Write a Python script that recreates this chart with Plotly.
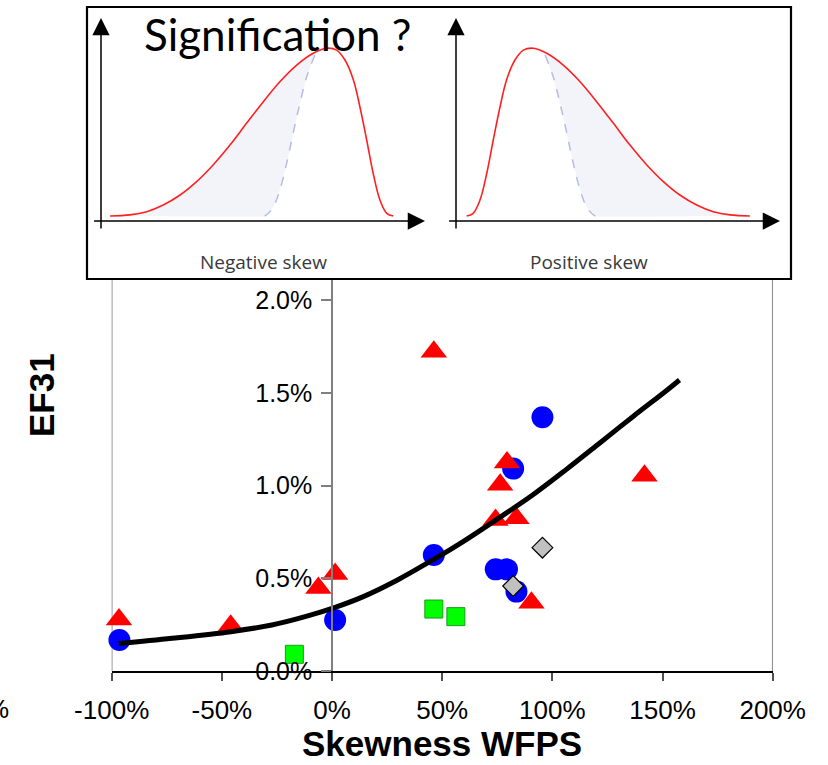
import plotly.graph_objects as go

W, H = 828, 765

# ---- measured series (fractions, 0.01 = 1 %) ----
tri_x = [-0.967, -0.460, -0.062, 0.014, 0.462, 0.794, 0.763, 1.418, 0.742, 0.837, 0.905]
tri_y = [0.00277, 0.00244, 0.00447, 0.00523, 0.01721, 0.01124, 0.01004, 0.01052, 0.00814, 0.00823, 0.00368]

circ_x = [-0.965, 0.014, 0.955, 0.822, 0.462, 0.743, 0.794, 0.837]
circ_y = [0.00167, 0.00275, 0.01368, 0.01091, 0.00625, 0.00548, 0.00548, 0.00428]

sq_x = [-0.171, 0.462, 0.562]
sq_y = [0.00090, 0.00334, 0.00293]

dia_x = [0.955, 0.822]
dia_y = [0.00665, 0.00458]

# trend curve
trend_x = [-0.968, -0.726, -0.459, -0.273, -0.122, 0.014, 0.142, 0.293, 0.462,
           0.595, 0.746, 0.912, 1.064, 1.214, 1.365, 1.517, 1.577]
trend_y = [0.00148, 0.00176, 0.00212, 0.00248, 0.00293, 0.00343, 0.00401, 0.00488, 0.00602,
           0.00698, 0.00816, 0.00950, 0.01087, 0.01228, 0.01371, 0.01511, 0.01569]

x_ticks = [-1.0, -0.5, 0.0, 0.5, 1.0, 1.5, 2.0]
x_tick_labels = ["-100%", "-50%", "0%", "50%", "100%", "150%", "200%"]
y_ticks = [0.0, 0.005, 0.010, 0.015, 0.020]
y_tick_labels = ["0.0%", "0.5%", "1.0%", "1.5%", "2.0%"]

# ---- skew sketch (unit axes: x along the horizontal arrow, y along the vertical arrow) ----
pos_curve_x = [0.033, 0.053, 0.074, 0.095, 0.115, 0.136, 0.156, 0.182, 0.208, 0.239, 0.280,
               0.331, 0.383, 0.434, 0.486, 0.537, 0.589, 0.640, 0.691, 0.743, 0.794, 0.846, 0.907]
pos_curve_y = [0.025, 0.038, 0.103, 0.235, 0.399, 0.563, 0.695, 0.793, 0.842, 0.851, 0.826,
               0.768, 0.686, 0.588, 0.481, 0.374, 0.276, 0.194, 0.128, 0.079, 0.046, 0.030, 0.025]
pos_normal_x = [0.275, 0.300, 0.321, 0.342, 0.362, 0.383, 0.403, 0.424, 0.439]
pos_normal_y = [0.818, 0.711, 0.580, 0.432, 0.284, 0.153, 0.070, 0.030, 0.021]
MIRROR = 0.935  # negative-skew sketch is the mirror image of the positive one

neg_curve_x = [MIRROR - v for v in pos_curve_x]
neg_normal_x = [MIRROR - v for v in pos_normal_x]


def px(p):
    return p / W


def py(p):
    return 1 - p / H


fig = go.Figure()

# ---- main scatter ----
fig.add_trace(go.Scatter(x=sq_x, y=sq_y, mode="markers",
                         marker=dict(symbol="square", size=18, color="#00ff00",
                                     line=dict(color="#1a9a1a", width=1)),
                         xaxis="x", yaxis="y", cliponaxis=False))
fig.add_trace(go.Scatter(x=circ_x, y=circ_y, mode="markers",
                         marker=dict(symbol="circle", size=22, color="#0000ff",
                                     line=dict(width=0)),
                         xaxis="x", yaxis="y", cliponaxis=False))
fig.add_trace(go.Scatter(x=tri_x, y=tri_y, mode="markers",
                         marker=dict(symbol="triangle-up", size=23, color="#ff0000",
                                     line=dict(width=0)),
                         xaxis="x", yaxis="y", cliponaxis=False))
fig.add_trace(go.Scatter(x=dia_x, y=dia_y, mode="markers",
                         marker=dict(symbol="diamond", size=16, color="#c0c0c0",
                                     line=dict(color="#000000", width=1.2)),
                         xaxis="x", yaxis="y", cliponaxis=False))
fig.add_trace(go.Scatter(x=trend_x, y=trend_y, mode="lines",
                         line=dict(color="#000000", width=5, shape="spline", smoothing=1.0),
                         xaxis="x", yaxis="y", cliponaxis=False))


# ---- skew sketches ----
def add_sketch(curve_x, curve_y, normal_x, normal_y, xa, ya, tail_right):
    # shaded area between the skewed curve and the symmetric reference
    if tail_right:
        tail = [(x, y) for x, y in zip(curve_x, curve_y) if x >= normal_x[0]]
    else:
        tail = [(x, y) for x, y in zip(curve_x, curve_y) if x <= normal_x[0]]
    poly_x = list(normal_x) + [p[0] for p in reversed(tail)]
    poly_y = list(normal_y) + [p[1] for p in reversed(tail)]
    fig.add_trace(go.Scatter(x=poly_x, y=poly_y, mode="lines", fill="toself",
                             fillcolor="#f3f3fa", line=dict(width=0),
                             xaxis=xa, yaxis=ya, hoverinfo="skip"))
    fig.add_trace(go.Scatter(x=normal_x, y=normal_y, mode="lines",
                             line=dict(color="#b4bde6", width=1.5, dash="dash", shape="spline"),
                             xaxis=xa, yaxis=ya))
    fig.add_trace(go.Scatter(x=curve_x, y=curve_y, mode="lines",
                             line=dict(color="#ff2020", width=1.6, shape="spline"),
                             xaxis=xa, yaxis=ya))


add_sketch(neg_curve_x, pos_curve_y, neg_normal_x, pos_normal_y, "x2", "y2", tail_right=False)
add_sketch(pos_curve_x, pos_curve_y, pos_normal_x, pos_normal_y, "x3", "y3", tail_right=True)

# sketch axes geometry (pixels): origin, arrow length
SK_Y0, SK_UNIT_Y = 221, 203
SK_UNIT_X = 324
sk_top, sk_bot = 10, 275
sk_yrange = [(SK_Y0 - sk_bot) / SK_UNIT_Y, (SK_Y0 - sk_top) / SK_UNIT_Y]


def sketch_axes(origin_x, anchor):
    left, right = origin_x - 15, origin_x + SK_UNIT_X + 15
    xr = [(left - origin_x) / SK_UNIT_X, (right - origin_x) / SK_UNIT_X]
    return dict(domain=[px(left), px(right)], range=xr, visible=False,
                fixedrange=True, anchor=anchor)


annotations = []
for xa, ya, label, lx in [("x2", "y2", "Negative skew", 0.500), ("x3", "y3", "Positive skew", 0.411)]:
    annotations.append(dict(x=0, y=1.0, ax=0, ay=-0.044, xref=xa, yref=ya, axref=xa, ayref=ya,
                            showarrow=True, arrowhead=2, arrowsize=2.3, arrowwidth=1.5,
                            arrowcolor="#000000", text=""))
    annotations.append(dict(x=1.0, y=0, ax=-0.026, ay=0, xref=xa, yref=ya, axref=xa, ayref=ya,
                            showarrow=True, arrowhead=2, arrowsize=2.3, arrowwidth=1.5,
                            arrowcolor="#000000", text=""))
    annotations.append(dict(x=lx, y=(SK_Y0 - 262) / SK_UNIT_Y, xref=xa, yref=ya, showarrow=False,
                            text=label, font=dict(family="Open Sans", size=19, color="#3a3a3a"),
                            xanchor="center", yanchor="middle"))

annotations += [
    dict(x=px(278), y=py(34), xref="paper", yref="paper", showarrow=False,
         text="Signification ?", font=dict(family="Lato", size=44, color="#000000"),
         xanchor="center", yanchor="middle"),
    dict(x=px(41), y=py(395), xref="paper", yref="paper", showarrow=False, textangle=-90,
         text="<b>EF31</b>", font=dict(family="Liberation Sans", size=35, color="#000000"),
         xanchor="center", yanchor="middle"),
    dict(x=px(442), y=py(743), xref="paper", yref="paper", showarrow=False,
         text="<b>Skewness WFPS</b>", font=dict(family="Liberation Sans", size=35, color="#000000"),
         xanchor="center", yanchor="middle"),
    dict(x=px(11), y=py(709), xref="paper", yref="paper", showarrow=False,
         text="-150%", font=dict(family="Liberation Sans", size=26, color="#000000"),
         xanchor="right", yanchor="middle"),
]

plot_left, plot_right, plot_top, plot_bottom = 111.7, 772.7, 280, 671
PX_PER_PCT = 185.5  # vertical pixels per 1 % of EF31
y_top_val = (plot_bottom - plot_top) / PX_PER_PCT * 0.01

shapes = [
    # plot frame sides
    dict(type="line", xref="x", yref="y domain", x0=-1, x1=-1, y0=0, y1=1,
         line=dict(color="#7a7a7a", width=1.5), layer="below"),
    dict(type="line", xref="x", yref="y domain", x0=2, x1=2, y0=0, y1=1,
         line=dict(color="#606060", width=1.5), layer="below"),
    # inset frame
    dict(type="rect", xref="paper", yref="paper", x0=px(87), x1=px(791), y0=py(279), y1=py(7),
         line=dict(color="#000000", width=2.2), fillcolor="rgba(0,0,0,0)", layer="above"),
]

fig.update_layout(
    width=W, height=H, template="none",
    margin=dict(l=0, r=0, t=0, b=0, autoexpand=False),
    paper_bgcolor="#ffffff", plot_bgcolor="rgba(0,0,0,0)",
    showlegend=False,
    xaxis=dict(domain=[px(plot_left), px(plot_right)], range=[-1, 2], anchor="y",
               tickvals=x_ticks, ticktext=x_tick_labels,
               showline=True, linecolor="#000000", linewidth=1.5,
               ticks="outside", ticklen=8, tickwidth=1.5, tickcolor="#505050",
               ticklabelstandoff=7,
               tickfont=dict(family="Liberation Sans", size=26, color="#000000"),
               showgrid=False, zeroline=False, automargin=False, fixedrange=True),
    yaxis=dict(domain=[py(plot_bottom), py(plot_top)], range=[0, y_top_val],
               anchor="free", position=px(332), side="left",
               tickvals=y_ticks, ticktext=y_tick_labels,
               showline=True, linecolor="#808080", linewidth=1.5,
               ticks="outside", ticklen=10, tickwidth=1.5, tickcolor="#808080",
               ticklabelstandoff=4,
               tickfont=dict(family="Liberation Sans", size=25, color="#000000"),
               showgrid=False, zeroline=False, automargin=False, fixedrange=True),
    xaxis2=sketch_axes(101, "y2"),
    yaxis2=dict(domain=[py(sk_bot), py(sk_top)], range=sk_yrange,
                anchor="x2", visible=False, fixedrange=True),
    xaxis3=sketch_axes(456, "y3"),
    yaxis3=dict(domain=[py(sk_bot), py(sk_top)], range=sk_yrange,
                anchor="x3", visible=False, fixedrange=True),
    annotations=annotations,
    shapes=shapes,
)

fig.write_html("out.html")
